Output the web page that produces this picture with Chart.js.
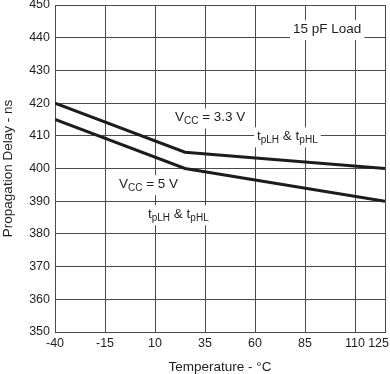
<!DOCTYPE html>
<html>
<head>
<meta charset="utf-8">
<script src="https://cdn.jsdelivr.net/npm/chart.js@4/dist/chart.umd.min.js"></script>
<style>
    html, body { margin: 0; padding: 0; background: #fff; }
    #wrap { width: 390px; height: 374px; position: relative; }
</style>
</head>
<body>
<div id="wrap"><canvas id="chart"></canvas></div>
<script>
// temperature (°C) break points of each curve
const tempPoints = [-40, 25, 125];
// propagation delay (ns)
const vcc33Delay = [420, 405, 400];
const vcc5Delay = [415, 400, 390];
// axis ticks
const xTicks = [-40, -15, 10, 35, 60, 85, 110, 125];
const yMin = 350;
const yMax = 450;
const yStep = 10;

const FONT = '"Liberation Sans", Arial, sans-serif';
const TEXT_COLOR = '#1e1e1e';
const GRID_COLOR = '#4a4a4a';
const TICK_SIZE = 12.5;

// text notes on the plot, anchored in data units (left edge, vertical middle)
// each part: [text, isSubscript]
const notes = [
    { x: 79, y: 442.6, parts: [['15 pF Load', false]] },
    { x: 20, y: 415.6, parts: [['V', false], ['CC', true], [' = 3.3 V', false]] },
    { x: 61, y: 409.8, parts: [['t', false], ['pLH', true], [' & t', false], ['pHL', true]] },
    { x: -8, y: 395.2, parts: [['V', false], ['CC', true], [' = 5 V', false]] },
    { x: 6.5, y: 386, parts: [['t', false], ['pLH', true], [' & t', false], ['pHL', true]] },
];

function toXY(xs, ys) {
    return xs.map((x, i) => ({ x: x, y: ys[i] }));
}

/**
 * draws the notes with a white box behind them, so grid lines are cut out
 */
const notesPlugin = {
    id: 'notes',
    beforeDatasetsDraw(chart) {
        const ctx = chart.ctx;
        const xs = chart.scales.x;
        const ys = chart.scales.y;
        ctx.save();
        ctx.textBaseline = 'middle';
        ctx.textAlign = 'left';
        notes.forEach(note => {
            const left = xs.getPixelForValue(note.x);
            const mid = ys.getPixelForValue(note.y);
            let width = 0;
            note.parts.forEach(([txt, sub]) => {
                ctx.font = (sub ? '10px ' : '13.5px ') + FONT;
                width += ctx.measureText(txt).width;
            });
            ctx.fillStyle = '#fff';
            ctx.fillRect(left - 3, mid - 9, width + 6, 20);
            let cx = left;
            note.parts.forEach(([txt, sub]) => {
                ctx.font = (sub ? '10px ' : '13.5px ') + FONT;
                ctx.fillStyle = TEXT_COLOR;
                ctx.fillText(txt, cx, sub ? mid + 4 : mid);
                cx += ctx.measureText(txt).width;
            });
        });
        ctx.restore();
    }
};

/**
 * x tick labels, kept inside the canvas at the right end
 */
const xLabelsPlugin = {
    id: 'xLabels',
    afterDraw(chart) {
        const ctx = chart.ctx;
        const xs = chart.scales.x;
        ctx.save();
        ctx.font = TICK_SIZE + 'px ' + FONT;
        ctx.fillStyle = TEXT_COLOR;
        ctx.textBaseline = 'middle';
        ctx.textAlign = 'center';
        xs.ticks.forEach(t => {
            let px = xs.getPixelForValue(t.value);
            const w = ctx.measureText(String(t.value)).width;
            if (px + w / 2 > chart.width - 1) {
                px = chart.width - 1 - w / 2;
            }
            ctx.fillText(String(t.value), px, xs.top + 12);
        });
        ctx.restore();
    }
};

const lineStyle = {
    borderColor: '#1c1c1c',
    borderWidth: 3,
    pointRadius: 0,
    fill: false,
    tension: 0,
};

new Chart(document.getElementById('chart'), {
    type: 'line',
    data: {
        datasets: [
            Object.assign({ label: 'VCC = 3.3 V', data: toXY(tempPoints, vcc33Delay) }, lineStyle),
            Object.assign({ label: 'VCC = 5 V', data: toXY(tempPoints, vcc5Delay) }, lineStyle),
        ]
    },
    options: {
        responsive: true,
        maintainAspectRatio: false,
        animation: false,
        layout: { padding: { top: 5, right: 5, left: 0, bottom: 0 } },
        plugins: {
            legend: { display: false },
            tooltip: { enabled: false },
        },
        scales: {
            x: {
                type: 'linear',
                min: xTicks[0],
                max: xTicks[xTicks.length - 1],
                afterBuildTicks: scale => {
                    scale.ticks = xTicks.map(v => ({ value: v }));
                },
                afterFit: scale => {
                    scale.height = 42;
                    scale.paddingLeft = 0;
                    scale.paddingRight = 0;
                },
                grid: { color: GRID_COLOR, lineWidth: 1, drawTicks: false },
                border: { color: GRID_COLOR, width: 1 },
                ticks: { display: false },
                title: {
                    display: true,
                    text: 'Temperature - °C',
                    color: TEXT_COLOR,
                    font: { family: FONT, size: 13.5 },
                    padding: { top: 0, bottom: -1 },
                },
            },
            y: {
                min: yMin,
                max: yMax,
                afterFit: scale => {
                    scale.width = 55;
                    scale.paddingTop = 0;
                    scale.paddingBottom = 0;
                },
                grid: { color: GRID_COLOR, lineWidth: 1, drawTicks: false },
                border: { color: GRID_COLOR, width: 1 },
                ticks: {
                    stepSize: yStep,
                    padding: 5,
                    color: TEXT_COLOR,
                    font: { family: FONT, size: TICK_SIZE },
                },
                title: {
                    display: true,
                    text: 'Propagation Delay - ns',
                    color: TEXT_COLOR,
                    font: { family: FONT, size: 13.5 },
                    padding: { top: 0, bottom: 0 },
                },
            },
        },
    },
    plugins: [notesPlugin, xLabelsPlugin],
});
</script>
</body>
</html>
